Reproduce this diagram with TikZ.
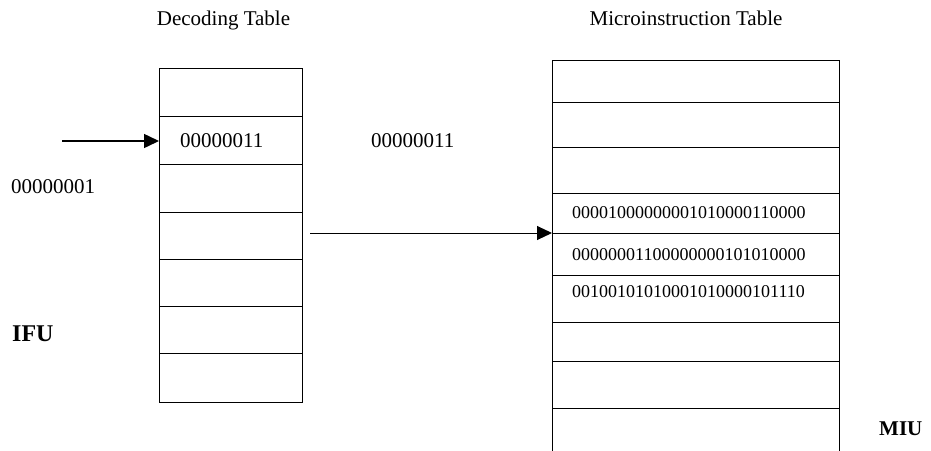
\documentclass[tikz,border=0pt]{standalone}
\usepackage{fontspec}
\setmainfont{Liberation Serif}
\usetikzlibrary{arrows.meta}

\begin{document}
\begin{tikzpicture}[x=1pt, y=-1pt,
  cell/.style={draw, line width=1pt, rectangle, inner sep=0pt, outer sep=0pt, anchor=north west},
  dcell/.style={cell, minimum width=143pt},
  mcell/.style={cell, minimum width=287pt},
  title/.style={inner sep=0pt, anchor=base, font=\fontsize{21}{25}\selectfont},
  code/.style={inner sep=0pt, anchor=base west, font=\fontsize{21}{25}\selectfont},
  micro/.style={inner sep=0pt, anchor=base west, font=\fontsize{18}{22}\selectfont},
  unit/.style={inner sep=0pt, anchor=base west, font=\bfseries\fontsize{#1}{#1}\selectfont},
  feed/.style={-{Triangle[length=15pt, width=14pt]}, line width=#1}
]
\useasboundingbox (0,0) rectangle (931,450);

% titles
\node[title] (tdec) at (223.5,25) {Decoding Table};
\node[title] (tmic) at (686,25) {Microinstruction Table};

% decoding table: seven rows
\node[dcell, minimum height=48pt] (d1) at (159,68) {};
\node[dcell, minimum height=48pt] (d2) at (159,116) {};
\node[dcell, minimum height=48pt] (d3) at (159,164) {};
\node[dcell, minimum height=47pt] (d4) at (159,212) {};
\node[dcell, minimum height=47pt] (d5) at (159,259) {};
\node[dcell, minimum height=47pt] (d6) at (159,306) {};
\node[dcell, minimum height=49pt] (d7) at (159,353) {};

% microinstruction table: rows running off the lower edge
\node[mcell, minimum height=42pt] (m1) at (552,60) {};
\node[mcell, minimum height=45pt] (m2) at (552,102) {};
\node[mcell, minimum height=46pt] (m3) at (552,147) {};
\node[mcell, minimum height=40pt] (m4) at (552,193) {};
\node[mcell, minimum height=42pt] (m5) at (552,233) {};
\node[mcell, minimum height=47pt] (m6) at (552,275) {};
\node[mcell, minimum height=39pt] (m7) at (552,322) {};
\node[mcell, minimum height=47pt] (m8) at (552,361) {};
\node[mcell, minimum height=50pt] (m9) at (552,408) {};

% codes
\node[code] (c1) at (180,147) {00000011};
\node[code] (c2) at (371,147) {00000011};
\node[code] (c3) at (11,193) {00000001};
\node[micro] (w1) at (572,218.5) {00001000000001010000110000};
\node[micro] (w2) at (572,260) {00000001100000000101010000};
\node[micro] (w3) at (572,297) {00100101010001010000101110};

% unit labels
\node[unit=24] (ifu) at (12,341) {IFU};
\node[unit=21] (miu) at (879,435) {MIU};

% connectors
\coordinate (in) at (62,141);
\coordinate (out) at (310,233);
\draw[feed=1.5pt] (in) -- (d2.west |- in);
\draw[feed=1pt] (out) -- (m4.south west);
\end{tikzpicture}
\end{document}
